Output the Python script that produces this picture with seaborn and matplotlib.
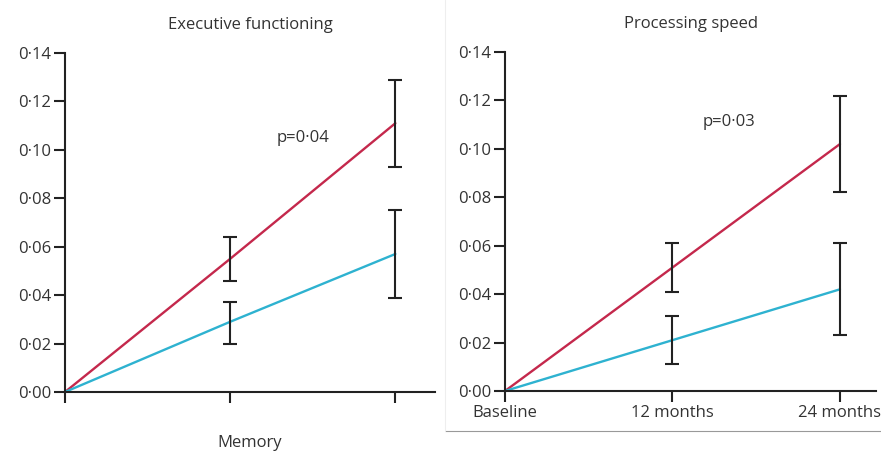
import matplotlib
matplotlib.use("Agg")
import matplotlib.pyplot as plt
import numpy as np
import pandas as pd
import seaborn as sns
from matplotlib.lines import Line2D

# ---- data ----
timepoints = [0, 1, 2]
time_labels = ["Baseline", "12 months", "24 months"]
y_ticks = [0.00, 0.02, 0.04, 0.06, 0.08, 0.10, 0.12, 0.14]

exec_red = [0.0, 0.055, 0.111]
exec_red_lo = [0.0, 0.046, 0.093]
exec_red_hi = [0.0, 0.064, 0.129]
exec_blue = [0.0, 0.029, 0.057]
exec_blue_lo = [0.0, 0.020, 0.039]
exec_blue_hi = [0.0, 0.037, 0.075]

speed_red = [0.0, 0.051, 0.102]
speed_red_lo = [0.0, 0.041, 0.082]
speed_red_hi = [0.0, 0.061, 0.122]
speed_blue = [0.0, 0.021, 0.042]
speed_blue_lo = [0.0, 0.011, 0.023]
speed_blue_hi = [0.0, 0.031, 0.061]

RED = "#c4284c"
BLUE = "#2eb2d0"
TXT = "#333333"
FS = 12

sns.set_style("ticks")
plt.rcParams["font.family"] = ["Open Sans", "DejaVu Sans"]

fig = plt.figure(figsize=(8.81, 4.53), dpi=100)
W, H = 881, 453


def panel(rect_px, xmax, title, p_text, p_xy, red, red_lo, red_hi,
          blue, blue_lo, blue_hi, show_xlabels):
    x0, ytop, x1, ybot = rect_px
    ax = fig.add_axes([x0 / W, (H - ybot) / H, (x1 - x0) / W, (ybot - ytop) / H])
    df = pd.DataFrame({
        "t": timepoints * 2,
        "v": red + blue,
        "grp": ["red"] * 3 + ["blue"] * 3,
    })
    sns.lineplot(data=df, x="t", y="v", hue="grp", palette={"red": RED, "blue": BLUE},
                 linewidth=1.7, legend=False, ax=ax, zorder=2)
    for vals, lo, hi in [(red, red_lo, red_hi), (blue, blue_lo, blue_hi)]:
        v = np.array(vals[1:])
        yerr = [v - np.array(lo[1:]), np.array(hi[1:]) - v]
        ax.errorbar(timepoints[1:], v, yerr=yerr, fmt="none", ecolor="#222222",
                    elinewidth=1.5, capsize=5, capthick=1.5, zorder=3)
    ax.set_xlim(0, xmax)
    ax.set_ylim(0, 0.14)
    ax.set_yticks(y_ticks)
    ax.set_yticklabels([f"{t:.2f}".replace(".", "\u00b7") for t in y_ticks])
    ax.set_xticks(timepoints)
    if show_xlabels:
        ax.set_xticklabels(time_labels)
    else:
        ax.set_xticklabels([])
    ax.set_xlabel("")
    ax.set_ylabel("")
    sns.despine(ax=ax)
    for s in ["left", "bottom"]:
        ax.spines[s].set_linewidth(1.5)
        ax.spines[s].set_color("#222222")
    ax.tick_params(axis="both", length=8, width=1.5, color="#222222",
                   labelsize=FS, labelcolor=TXT, pad=2)
    ax.tick_params(axis="x", pad=2)
    ax.set_title(title, fontsize=FS, color=TXT, pad=17)
    ax.text(p_xy[0], p_xy[1], p_text, fontsize=FS, color=TXT, ha="center", va="center")
    return ax


panel((65, 53, 435, 392), 2.24, "Executive functioning", "p=0\u00b704", (1.44, 0.105),
      exec_red, exec_red_lo, exec_red_hi, exec_blue, exec_blue_lo, exec_blue_hi, False)
panel((505, 52, 876, 391), 2.215, "Processing speed", "p=0\u00b703", (1.34, 0.111),
      speed_red, speed_red_lo, speed_red_hi, speed_blue, speed_blue_lo, speed_blue_hi, True)

fig.text(250 / W, 1 - 443 / H, "Memory", fontsize=FS, color=TXT, ha="center", va="center")

# thin frame of the right-hand panel
fig.add_artist(Line2D([445 / W, 1], [1 - 431 / H] * 2, color="#999999", lw=0.8))
fig.add_artist(Line2D([445 / W] * 2, [1 - 431 / H, 1], color="#eeeeee", lw=0.8))

fig.savefig("out.png", dpi=100)
